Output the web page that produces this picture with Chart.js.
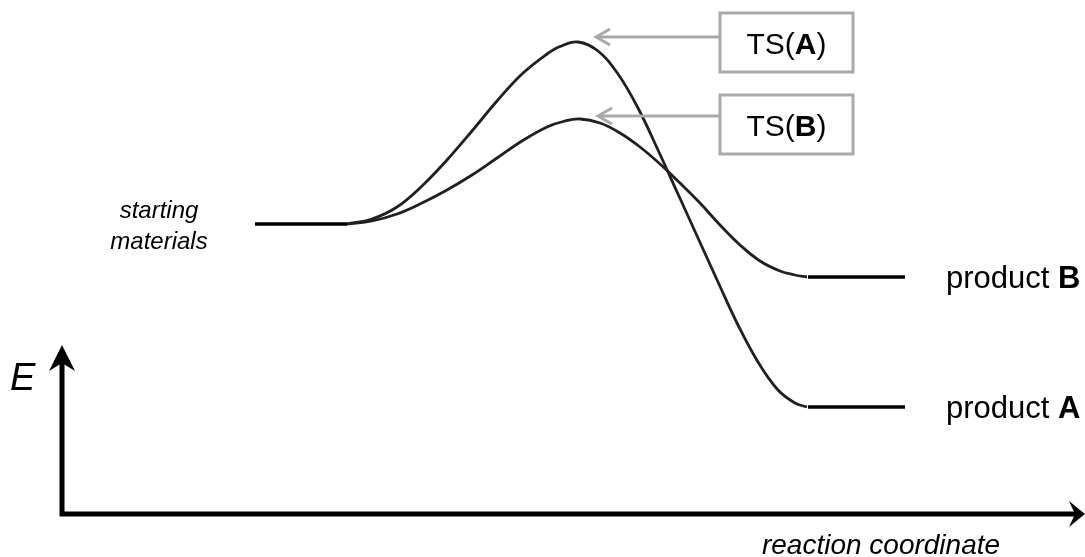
<!DOCTYPE html>
<html>
<head>
<meta charset="utf-8">
<script src="https://cdn.jsdelivr.net/npm/chart.js@4/dist/chart.umd.min.js"></script>
<style>
html,body{margin:0;padding:0;background:#fff;}
canvas{display:block;}
</style>
</head>
<body>
<canvas id="c" width="1085" height="557"></canvas>
<script>
// ---- data (reaction coordinate units, energy units relative to starting materials) ----
const curveA_x = [28.5, 31.0, 33.5, 36.0, 38.5, 41.0, 43.5, 46.0, 48.5, 49.8, 51.6, 53.6, 55.6, 57.6, 59.6, 61.6, 63.6, 65.6, 67.6, 69.6, 71.6, 73.3, 74.5];
const curveA_E = [0, 2.5, 8.5, 19, 32, 46.5, 61.5, 75, 85, 88.75, 91, 86.5, 75, 58, 37, 15, -7, -29, -50.5, -69, -83, -89.5, -91.5];
const curveB_x = [28.5, 31.0, 33.5, 36.0, 38.5, 41.0, 43.5, 46.0, 48.5, 50.3, 51.8, 53.8, 55.8, 57.8, 59.8, 61.8, 63.8, 65.8, 67.8, 69.8, 71.8, 73.3, 74.5];
const curveB_E = [0, 1.5, 5, 10.5, 17, 24.5, 33, 41.5, 48.5, 51.5, 52.5, 50.5, 45.5, 38.5, 30, 20.5, 10.5, -0.5, -10.5, -18.5, -23.5, -25.5, -26.5];
const startLevel_x = [19.3, 28.5];
const startLevel_E = [0, 0];
const productLevel_x = [74.6, 84.3];
const productB_E = [-26.5, -26.5];
const productA_E = [-91.5, -91.5];
const peakA = {x: 51.6, E: 91};
const peakB = {x: 51.8, E: 52.5};
const axisOrigin = {x: 0, E: -145};
const axisTopE = -60.5;
const axisRightX = 102.3;
const labels = {
  start: ['starting', 'materials'],
  productA: ['product ', 'A'],
  productB: ['product ', 'B'],
  tsA: ['TS(', 'A', ')'],
  tsB: ['TS(', 'B', ')'],
  xTitle: 'reaction coordinate',
  yTitle: 'E'
};

const pts = (xs, ys) => xs.map((x, i) => ({x: x, y: ys[i]}));
const INK = '#231f20';
const GRAY = '#a9a9a9';
const FONT = '"Liberation Sans", Arial, sans-serif';

function drawRich(ctx, parts, x, y, size, align) {
  let widths = parts.map(p => { ctx.font = (p[1] ? 'bold ' : '') + size + 'px ' + FONT; return ctx.measureText(p[0]).width; });
  let total = widths.reduce((a, b) => a + b, 0);
  let cx = align === 'center' ? x - total / 2 : x;
  ctx.textAlign = 'left';
  parts.forEach((p, i) => {
    ctx.font = (p[1] ? 'bold ' : '') + size + 'px ' + FONT;
    ctx.fillText(p[0], cx, y);
    cx += widths[i];
  });
}

const decor = {
  id: 'decor',
  afterDatasetsDraw(chart) {
    const ctx = chart.ctx;
    const xs = chart.scales.x, ys = chart.scales.y;
    const px = v => xs.getPixelForValue(v);
    const py = v => ys.getPixelForValue(v);
    ctx.save();
    const ox = px(axisOrigin.x), oy = py(axisOrigin.E);
    const topY = py(axisTopE), rightX = px(axisRightX);
    ctx.strokeStyle = '#000';
    ctx.fillStyle = '#000';
    ctx.lineWidth = 5;
    ctx.lineCap = 'butt';
    ctx.beginPath();
    ctx.moveTo(ox, oy + 2.5);
    ctx.lineTo(ox, topY + 15);
    ctx.moveTo(ox - 2.5, oy);
    ctx.lineTo(rightX - 8, oy);
    ctx.stroke();
    ctx.beginPath();
    ctx.moveTo(ox, topY);
    ctx.lineTo(ox + 13, topY + 26);
    ctx.lineTo(ox, topY + 18);
    ctx.lineTo(ox - 13, topY + 26);
    ctx.closePath();
    ctx.fill();
    ctx.beginPath();
    ctx.moveTo(rightX, oy);
    ctx.lineTo(rightX - 16, oy - 13);
    ctx.lineTo(rightX - 10, oy);
    ctx.lineTo(rightX - 16, oy + 13);
    ctx.closePath();
    ctx.fill();

    ctx.fillStyle = '#000';
    ctx.textBaseline = 'alphabetic';
    ctx.textAlign = 'left';
    ctx.font = 'italic 38px ' + FONT;
    ctx.fillText(labels.yTitle, ox - 52, topY + 45);
    ctx.textAlign = 'center';
    ctx.font = 'italic 28px ' + FONT;
    ctx.fillText(labels.xTitle, 881, oy + 40);

    const sx = px(startLevel_x[0]), sy = py(startLevel_E[0]);
    ctx.font = 'italic 24px ' + FONT;
    ctx.textAlign = 'center';
    ctx.fillText(labels.start[0], sx - 96, sy - 6);
    ctx.fillText(labels.start[1], sx - 96, sy + 25);

    const plx = px(productLevel_x[1]) + 41;
    drawRich(ctx, [[labels.productB[0], false], [labels.productB[1], true]], plx, py(productB_E[0]) + 11, 31, 'left');
    drawRich(ctx, [[labels.productA[0], false], [labels.productA[1], true]], plx, py(productA_E[0]) + 11, 31, 'left');

    const boxes = [
      {peak: peakA, parts: labels.tsA, top: 13, dy: -5},
      {peak: peakB, parts: labels.tsB, top: 95, dy: -3}
    ];
    const bx = 720, bw = 133, bh = 59;
    boxes.forEach(b => {
      const tipX = px(b.peak.x) + 18, tipY = py(b.peak.E) + b.dy;
      ctx.strokeStyle = GRAY;
      ctx.lineWidth = 3;
      ctx.strokeRect(bx, b.top, bw, bh);
      ctx.beginPath();
      ctx.moveTo(bx, tipY);
      ctx.lineTo(tipX + 2, tipY);
      ctx.stroke();
      ctx.beginPath();
      ctx.moveTo(tipX + 14, tipY - 8);
      ctx.lineTo(tipX, tipY);
      ctx.lineTo(tipX + 14, tipY + 8);
      ctx.stroke();
      ctx.fillStyle = '#000';
      drawRich(ctx, [[b.parts[0], false], [b.parts[1], true], [b.parts[2], false]], bx + bw / 2, b.top + bh / 2 + 11, 30, 'center');
    });
    ctx.restore();
  }
};

const curveStyle = {borderColor: INK, borderWidth: 2.8, pointRadius: 0, fill: false, tension: 0.4};
const levelStyle = {borderColor: '#000', borderWidth: 3.5, pointRadius: 0, fill: false, tension: 0};

new Chart(document.getElementById('c'), {
  type: 'line',
  data: {
    datasets: [
      Object.assign({label: 'TS(A) pathway', data: pts(curveA_x, curveA_E)}, curveStyle),
      Object.assign({label: 'TS(B) pathway', data: pts(curveB_x, curveB_E)}, curveStyle),
      Object.assign({label: 'starting materials', data: pts(startLevel_x, startLevel_E)}, levelStyle),
      Object.assign({label: 'product B', data: pts(productLevel_x, productB_E)}, levelStyle),
      Object.assign({label: 'product A', data: pts(productLevel_x, productA_E)}, levelStyle)
    ]
  },
  options: {
    responsive: false,
    animation: false,
    devicePixelRatio: 1,
    layout: {padding: 0},
    plugins: {legend: {display: false}, tooltip: {enabled: false}},
    scales: {
      x: {type: 'linear', min: -6.2, max: 102.3, display: false},
      y: {type: 'linear', min: -166.5, max: 112, display: false}
    }
  },
  plugins: [decor]
});
</script>
</body>
</html>
